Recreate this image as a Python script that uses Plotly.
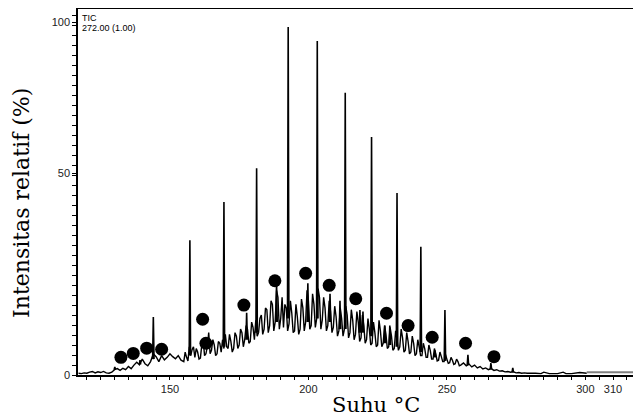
import plotly.graph_objects as go

# ---- data ----
base_start = 117
base_vals = [
    0.5, 0.4, 0.6, 0.5, 0.8, 1.0, 0.6, 0.9, 0.7, 1.0,      # 117-126
    0.6, 0.5, 0.8, 1.5, 1.8, 1.3, 1.9, 1.5, 2.4, 1.8,      # 127-136
    2.8, 3.6, 2.9, 4.5, 3.2, 2.6, 3.8, 6.0, 5.2, 3.8,      # 137-146
    5.5, 4.3, 5.0, 6.0, 5.2, 4.6, 5.5, 4.2, 3.8, 5.0,      # 147-156
    8.0, 7.2, 5.0, 6.5, 4.8, 10.0, 6.0, 12.0, 7.0, 8.5,    # 157-166
    6.0, 9.0, 10.0, 11.5, 7.5, 9.5, 7.5, 11.0, 8.5, 12.0,  # 167-176
    10.0, 13.0, 9.5, 13.5, 15.5, 12.0, 17.0, 13.0, 18.5, 14.0,  # 177-186
    20.0, 15.0, 22.0, 16.0, 13.5, 19.0, 14.5, 17.5, 12.5, 16.5,  # 187-196
    13.0, 19.0, 15.0, 21.0, 14.0, 20.0, 16.0, 22.0, 15.5, 19.0,  # 197-206
    14.0, 18.0, 13.5, 16.5, 12.5, 16.0, 13.0, 17.0, 12.0, 15.5,  # 207-216
    11.5, 15.0, 10.5, 14.0, 10.0, 13.0, 9.0, 12.0, 8.5, 12.5,    # 217-226
    9.0, 11.5, 8.0, 11.0, 7.5, 10.0, 8.0, 10.5, 7.0, 9.5,        # 227-236
    6.5, 9.0, 6.0, 8.0, 5.5, 7.5, 5.0, 7.0, 4.5, 6.0,            # 237-246
    4.2, 5.2, 3.8, 4.5, 3.5, 4.2, 3.2, 3.8, 2.8, 3.4,            # 247-256
    2.6, 3.1, 2.3, 2.8, 2.0, 2.4, 1.7, 2.0, 1.5, 1.8,            # 257-266
    1.3, 1.5, 1.1, 1.2, 0.9, 1.0, 0.8, 0.9, 0.6, 0.7,            # 267-276
    0.5, 0.6, 0.5, 0.5,                                          # 277-280
]
base_temp = list(range(base_start, base_start + len(base_vals)))

# half-degree readings inside the dense hump (155.5 ... 254.5)
mid_start = 155.5
mid_vals = [
    6.5, 4.0, 5.5, 8.0, 7.5, 4.5, 8.5, 5.5, 8.0, 6.0,            # 155.5-164.5
    10.0, 5.5, 9.5, 6.5, 7.5, 8.0, 11.5, 6.5, 12.0, 7.5,         # 165.5-174.5
    13.0, 8.0, 14.0, 9.0, 15.0, 10.0, 11.0, 16.0, 11.5, 19.0,    # 175.5-184.5
    12.0, 21.0, 12.5, 24.0, 13.0, 22.0, 20.0, 12.5, 21.0, 12.0,  # 185.5-194.5
    20.0, 11.5, 21.5, 12.5, 24.0, 13.0, 23.0, 13.5, 24.5, 13.0,  # 195.5-204.5
    22.0, 12.5, 21.0, 12.0, 19.5, 11.0, 19.0, 11.0, 19.5, 10.5,  # 205.5-214.5
    18.5, 10.0, 18.0, 9.5, 17.0, 9.0, 16.0, 8.5, 15.0, 8.0,      # 215.5-224.5
    15.5, 8.0, 14.0, 7.5, 13.5, 7.0, 12.5, 7.0, 13.0, 6.5,       # 225.5-234.5
    12.0, 6.0, 11.0, 5.5, 10.0, 5.5, 9.0, 5.0, 8.5, 4.5,         # 235.5-244.5
    7.5, 4.0, 6.5, 3.8, 5.8, 3.3, 5.0, 3.0, 4.5, 2.6,            # 245.5-254.5
]
mid_temp = [mid_start + i for i in range(len(mid_vals))]

tail_temp = [282, 284, 285, 287, 290, 292, 293, 295, 298, 300.5]
tail_vals = [0.5, 0.4, 0.8, 0.4, 0.4, 0.8, 0.4, 0.4, 0.7, 0.5]

plateau_temp = [300.5, 320.2]
plateau_vals = [0.8, 0.8]

spike_temp = [130.1, 139.2, 144.0, 157.2, 169.5, 177.7, 181.3, 188.5, 192.7, 199.8,
              203.2, 207.8, 211.4, 213.3, 218.6, 219.7, 222.8, 227.6, 229.4, 232.0,
              240.6, 245.7, 249.3, 257.6, 265.9, 273.8]
spike_peak = [2.3, 4.2, 16.4, 38.2, 49.0, 17.6, 58.6, 26.0, 98.6, 26.0,
              94.6, 23.0, 21.0, 80.0, 18.4, 18.0, 67.4, 14.0, 14.0, 51.6,
              36.3, 7.0, 18.4, 5.7, 3.4, 2.0]
spike_base = [1.5, 3.0, 4.5, 5.5, 8.0, 10.0, 12.0, 15.0, 16.0, 15.0,
              16.0, 15.0, 13.0, 13.0, 12.0, 12.0, 11.0, 9.0, 8.5, 8.0,
              6.5, 5.0, 4.0, 2.8, 1.6, 0.8]

dot_temp = [132.3, 136.75, 141.6, 147.0, 161.8, 163.0, 176.7, 187.9, 199.0, 207.5,
            217.1, 228.2, 236.0, 244.7, 256.75, 267.0]
dot_vals = [5.0, 6.1, 7.6, 7.3, 15.8, 9.0, 19.8, 26.7, 28.8, 25.4,
            21.6, 17.5, 14.0, 10.7, 9.0, 5.2]

x_tick_vals = [150, 200, 250, 300, 310]
x_tick_text = ["150", "200", "250", "300", "310"]
y_tick_vals = [0, 57.2, 100]
y_tick_text = ["0", "50", "100"]

# ---- assemble the trace ----
pts = sorted(zip(base_temp + mid_temp + tail_temp, base_vals + mid_vals + tail_vals))
line_x = [p[0] for p in pts]
line_y = [p[1] for p in pts]

sx, sy = [], []
for t, p, b in zip(spike_temp, spike_peak, spike_base):
    sx += [t - 0.25, t, t + 0.25, None]
    sy += [b, p, b, None]

fig = go.Figure()
fig.add_trace(go.Scatter(x=line_x, y=line_y, mode="lines",
                         line=dict(color="black", width=1.4, simplify=False),
                         hoverinfo="skip"))
fig.add_trace(go.Scatter(x=plateau_temp, y=plateau_vals, mode="lines",
                         line=dict(color="#808080", width=2), hoverinfo="skip"))
fig.add_trace(go.Scatter(x=sx, y=sy, mode="lines",
                         line=dict(color="black", width=1.6, simplify=False),
                         hoverinfo="skip"))
fig.add_trace(go.Scatter(x=dot_temp, y=dot_vals, mode="markers",
                         marker=dict(color="black", size=13, line=dict(width=0))))

tickfont = dict(family="Liberation Sans", size=11, color="#222")
fig.update_layout(
    width=633, height=411,
    margin=dict(l=70, r=0, t=1, b=44),
    plot_bgcolor="white", paper_bgcolor="white",
    showlegend=False,
    xaxis=dict(range=[116.8, 320.1], tickvals=x_tick_vals, ticktext=x_tick_text,
               showgrid=False, zeroline=False, showline=True, linecolor="black",
               linewidth=1.5, mirror=True, ticks="outside", ticklen=3, tickwidth=1,
               tickcolor="black", tickfont=tickfont,
               minor=dict(dtick=5, tick0=0, ticks="outside", ticklen=3,
                          tickcolor="black", showgrid=False)),
    yaxis=dict(range=[0, 103.7], tickvals=y_tick_vals, ticktext=y_tick_text,
               showgrid=False, zeroline=False, showline=True, linecolor="black",
               linewidth=1.5, ticks="outside", ticklen=4, tickwidth=1,
               tickcolor="black", tickfont=tickfont,
               minor=dict(dtick=2.833, tick0=0, ticks="outside", ticklen=4,
                          tickcolor="black", showgrid=False)),
    annotations=[
        dict(text="TIC", xref="paper", yref="paper", x=0.003, y=0.995,
             xanchor="left", yanchor="top", showarrow=False,
             font=dict(family="Liberation Sans", size=9, color="black")),
        dict(text="272.00 (1.00)", xref="paper", yref="paper", x=0.003, y=0.968,
             xanchor="left", yanchor="top", showarrow=False,
             font=dict(family="Liberation Sans", size=9, color="black")),
        dict(text="Intensitas relatif (%)", xref="paper", yref="paper",
             x=-0.0995, y=0.47, xanchor="center", yanchor="middle",
             textangle=-90, showarrow=False,
             font=dict(family="DejaVu Serif", size=22, color="black")),
        dict(text="Suhu °C", xref="paper", yref="paper", x=0.529, y=-0.082,
             xanchor="center", yanchor="middle", showarrow=False,
             font=dict(family="DejaVu Serif", size=21, color="black")),
    ],
)
fig.write_html("out.html")
